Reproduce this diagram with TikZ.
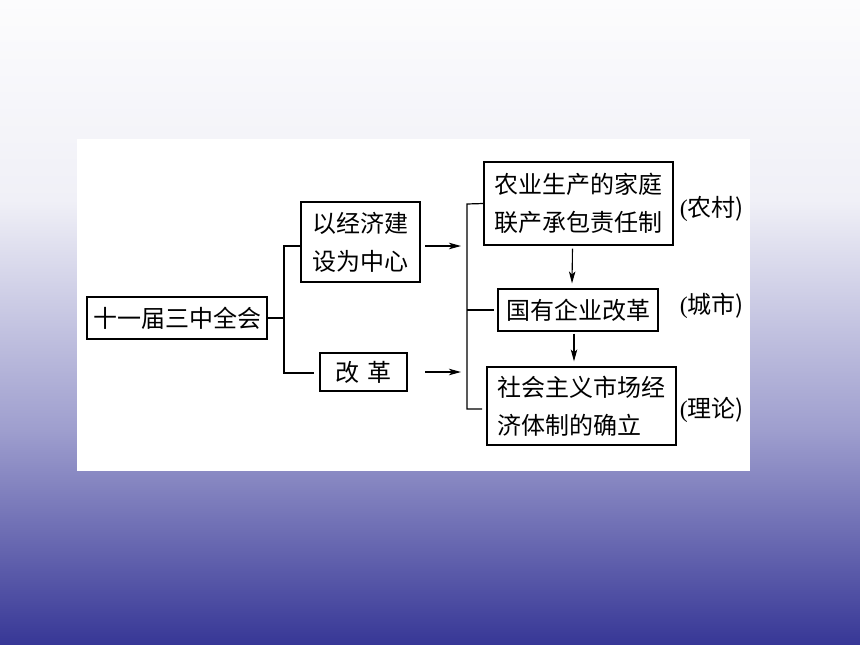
\documentclass[tikz,border=0pt]{standalone}
\usepackage{fontspec}
\setmainfont{Liberation Serif}
\newfontfamily\cjk{Noto Sans CJK SC}
\usetikzlibrary{arrows.meta,calc}
\definecolor{bgzero}{RGB}{252,252,253}
\definecolor{bgone}{RGB}{240,240,247}
\definecolor{bgtwo}{RGB}{158,158,206}
\definecolor{bgthree}{RGB}{55,55,150}
\begin{document}
\begin{tikzpicture}[x=1pt,y=-1pt,
  box/.style={draw=black,line width=1.2pt,inner sep=0pt,font=\cjk\fontsize{24}{38}\selectfont},
  conn/.style={line width=1.2pt},
  arr/.style={line width=1.1pt,-{Stealth[length=12pt,width=6.5pt,inset=3pt]}},
  lab/.style={font=\fontsize{24}{28}\selectfont,inner sep=0pt}]
\useasboundingbox (0,0) rectangle (860,645);
\shade[top color=bgzero,bottom color=bgone] (0,0) rectangle (860,200.5);
\shade[top color=bgone,bottom color=bgtwo] (0,200) rectangle (860,430.5);
\shade[top color=bgtwo,bottom color=bgthree] (0,430) rectangle (860,645);
\fill[white] (77,138.5) rectangle (750,471);

\node[box,minimum width=180pt,minimum height=42pt] (root) at (177,318) {十一届三中全会};
\node[box,minimum width=119pt,minimum height=80pt,align=center] (A) at (360.5,242) {以经济建\\设为中心};
\node[box,minimum width=87pt,minimum height=38pt] (B) at (363.5,372) {改\hspace{8pt}革};
\node[box,minimum width=189pt,minimum height=83pt,align=left] (C) at (578.5,203.5) {农业生产的家庭\\联产承包责任制};
\node[box,minimum width=160pt,minimum height=42pt] (D) at (578,310) {国有企业改革};
\node[box,minimum width=189pt,minimum height=78pt,align=left] (E) at (581.5,406) {社会主义市场经\\济体制的确立};
\node[lab] (L1) at (712,209) {(\cjk 农村)};
\node[lab] (L2) at (712,306) {(\cjk 城市)};
\node[lab] (L3) at (712,410) {(\cjk 理论)};

\coordinate (fork) at (284,316);
\coordinate (fA) at (284,246);
\coordinate (fB) at (284,373);
\coordinate (bEnd) at (314,373);
\draw[conn] (root.east) -- (root.east -| fork);
\draw[conn] (A.west |- fA) -- (fA) -- (fB) -- (bEnd);

\coordinate (aones) at (425,246);
\coordinate (aonee) at (461,246);
\coordinate (atwos) at (425,372);
\coordinate (atwoe) at (461,372);
\draw[arr] (aones) -- (aonee);
\draw[arr] (atwos) -- (atwoe);

\coordinate (bt) at (467,204);
\coordinate (bb) at (467,409);
\draw[conn] (C.west) -- (bt) -- (bb) -- (482,409);
\draw[conn] (bt |- D.west) -- ($(D.west)+(-3,0)$);

\draw[arr] ($(C.south)+(-6,3)$) -- ($(D.north)+(-6,-5)$);
\draw[arr] ($(D.south)+(-4,2)$) -- ($(E.north)+(-7.5,-5)$);
\end{tikzpicture}
\end{document}
